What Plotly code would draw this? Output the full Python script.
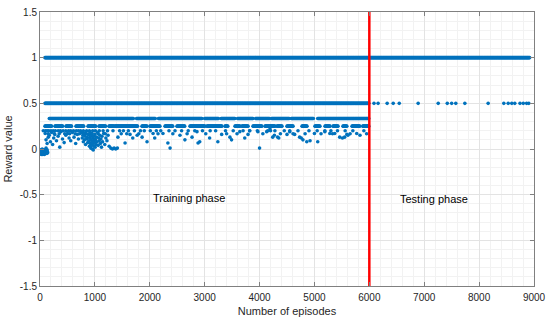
import numpy as np
import plotly.graph_objects as go

# ---------------- data ----------------
# Episode ranges (start, end) where the reward sits on a given level (dense bands)
level_1_segments = [(90, 8920)]
level_05_segments = [(90, 5990)]
level_033_segments = [(170, 1700), (1760, 2100), (2160, 2950), (3000, 3250), (3300, 3550),
                      (3600, 3880), (3930, 4180), (4220, 4540), (4580, 4980), (5060, 5990)]
level_025_segments = [(91, 219), (273, 419), (474, 583), (656, 802), (875, 1020), (1075, 1203),
                      (1257, 1348), (1367, 1786), (1858, 1950), (2004, 2186), (2278, 2423),
                      (2496, 2642), (2733, 3006), (3043, 3316), (3371, 3425), (3553, 3644),
                      (3680, 3790), (3881, 4045), (4100, 4282), (4318, 4409), (4500, 4610),
                      (4774, 4865), (5010, 5100), (5193, 5284), (5339, 5430), (5520, 5594),
                      (5685, 5830), (5880, 5990)]
band_step = 10

# Sparse 0.5 rewards in the testing phase
testing_05_eps = [6085, 6160, 6325, 6435, 6545, 6890, 7255, 7420, 7500, 7575, 7740,
                  8165, 8450, 8530, 8595, 8650, 8745, 8805, 8865, 8905]

# Episodes with reward 0.2
level_02_eps = [60, 100, 130, 160, 200, 240, 280, 330, 370, 420, 470, 520, 560, 610, 660,
                700, 740, 790, 850, 900, 960, 1010, 1080, 1150, 1230, 1330, 1450, 1520,
                1610, 1720, 1830, 1900, 2010, 2120, 2200, 2350, 2460, 2580, 2700, 2820,
                2960, 3100, 3200, 3380, 3520, 3700, 3820, 3960, 4150, 4200, 4280, 4450,
                4550, 4700, 4900, 5050, 5190, 5300, 5420, 5560, 5700, 5900]

# Episodes with reward 1/6
level_0167_eps = [150, 260, 350, 450, 540, 640, 720, 830, 940, 1060, 1190, 1480, 1580, 1800,
                  2150, 2420, 2680, 3020, 3400, 3590, 4060, 4380, 4610, 4830, 5120, 5330,
                  5650, 5950]

# Individual scattered points (episode, reward)
scatter_eps = [5, 10, 15, 20, 25, 30, 35, 40, 45, 50, 55, 60, 65, 70, 75, 80, 85, 90, 95,
               100, 105, 110, 115, 120, 125, 130, 135, 140,
               95, 110, 130, 150, 170, 190, 210, 230, 250, 270, 300, 330, 360, 380, 410,
               440, 470, 500, 530, 560, 590, 620, 650, 680, 700,
               760, 770, 780, 790, 800, 810, 820, 830, 840, 850, 860, 870, 880, 890, 900,
               905, 910, 915, 920, 925, 930, 935, 940, 945, 950, 955, 960, 965, 970, 975,
               980, 985, 990, 995, 1000, 1005, 1010, 1020, 1030, 1040, 1050, 1060, 1070,
               1080, 1090, 1100, 1110, 1120, 1130, 1140, 1160, 1180, 1200, 1220, 1240, 1260,
               1290, 1320, 1350, 1380, 1410,
               1420, 1550, 1640, 1690, 1770, 1860, 1950, 2060, 2090, 2240, 2330, 2370, 2550,
               2640, 2770, 2860, 2880, 2910, 3090, 3240, 3310, 3460, 3490, 3640, 3730, 3790,
               3820, 3970, 4000, 4130, 4190, 4240, 4270, 4330, 4350, 4500, 4550, 4640, 4730,
               4760, 4790, 4860, 4920, 5000, 5060, 5190, 5280, 5370, 5460, 5510, 5550, 5590,
               5610, 5770, 5830]
scatter_vals = [-0.03, -0.05, -0.01, -0.04, -0.06, -0.02, -0.05, 0.00, -0.03, -0.06, -0.01,
                -0.04, -0.05, -0.02, -0.03, -0.06, -0.01, -0.04, -0.02, -0.05, -0.03, 0.01,
                -0.04, -0.02, -0.05, -0.01, -0.03, -0.04,
                0.17, 0.10, 0.06, 0.13, 0.15, 0.08, 0.18, 0.05, 0.12, 0.16, 0.09, 0.14, 0.02,
                0.19, 0.11, 0.07, 0.15, 0.17, 0.12, 0.09, 0.18, 0.13, 0.06, 0.16, 0.11,
                0.18, 0.12, 0.15, 0.08, 0.17, 0.10, 0.14, 0.05, 0.19, 0.11, 0.13, 0.07, 0.16,
                0.09, 0.03, 0.12, 0.18, 0.06, 0.14, 0.01, 0.10, 0.15, 0.04, 0.08, 0.17, 0.00,
                0.12, 0.06, -0.01, 0.09, 0.14, 0.03, 0.11, 0.07, 0.16, 0.02, 0.10, 0.05, 0.13,
                0.08, 0.18, 0.04, 0.12, 0.09, 0.15, 0.06, 0.11, 0.02, 0.14, 0.08, 0.17, 0.05,
                0.12, 0.09, 0.15, 0.03,
                0.01, 0.00, 0.01, 0.00, 0.01,
                0.13, 0.065, 0.16, 0.12, 0.15, 0.13, 0.08, 0.17, 0.12, 0.17, 0.065, 0.01, 0.15,
                0.10, 0.13, 0.19, 0.065, 0.08, 0.12, 0.08, 0.16, 0.13, 0.10, 0.19, 0.12, 0.16,
                0.20, 0.19, 0.01, 0.19, 0.22, 0.13, 0.15, 0.13, 0.12, 0.16, 0.19, 0.16, 0.13,
                0.12, 0.10, 0.08, 0.09, 0.17, 0.08, 0.19, 0.17, 0.17, 0.13, 0.12, 0.13, 0.16,
                0.15, 0.17, 0.15]

phase_boundary = 6000
x_ticks = [0, 1000, 2000, 3000, 4000, 5000, 6000, 7000, 8000, 9000]
y_ticks = [-1.5, -1, -0.5, 0, 0.5, 1, 1.5]
y_tick_text = ["-1.5", "-1", "-0.5", "0", "0.5", "1", "1.5"]


def expand(segments, level):
    xs, ys = [], []
    for a, b in segments:
        e = list(range(a, b + 1, band_step))
        xs += e
        ys += [level] * len(e)
    return xs, ys


xs, ys = [], []
for segs, lvl in [(level_1_segments, 1.0), (level_05_segments, 0.5),
                  (level_033_segments, 1 / 3), (level_025_segments, 0.25)]:
    a, b = expand(segs, lvl)
    xs += a
    ys += b
xs += testing_05_eps
ys += [0.5] * len(testing_05_eps)
xs += level_02_eps
ys += [0.2] * len(level_02_eps)
xs += level_0167_eps
ys += [1 / 6] * len(level_0167_eps)
xs += scatter_eps
ys += scatter_vals

blue = "#0072BD"
fig = go.Figure()
fig.add_trace(go.Scatter(x=xs, y=ys, mode="markers",
                         marker=dict(color=blue, size=3.6, line=dict(width=0)),
                         showlegend=False, hoverinfo="skip"))
fig.add_trace(go.Scatter(x=[phase_boundary, phase_boundary], y=[y_ticks[0], y_ticks[-1]],
                         mode="lines", line=dict(color="#FF0000", width=2.5),
                         showlegend=False, hoverinfo="skip"))

font = "Liberation Sans, Arial, sans-serif"
fig.add_annotation(x=2714, y=-0.536, text="Training phase", showarrow=False,
                   font=dict(family=font, size=11, color="black"))
fig.add_annotation(x=7186, y=-0.547, text="Testing phase", showarrow=False,
                   font=dict(family=font, size=11, color="black"))

axis_common = dict(showline=True, linecolor="#808080", linewidth=1, mirror="ticks",
                   ticks="inside", ticklen=4, tickcolor="#808080", automargin=False,
                   showgrid=True, gridcolor="#E3E3E3", gridwidth=1, zeroline=False,
                   tickfont=dict(family=font, size=10, color="#262626"))
fig.update_xaxes(range=[0, 9000], tickvals=x_ticks, ticklabelstandoff=2,
                 minor=dict(dtick=200, showgrid=True, gridcolor="#F2F2F2", ticks=""),
                 title=dict(text="Number of episodes", standoff=5,
                            font=dict(family=font, size=11, color="#262626")),
                 **axis_common)
fig.update_yaxes(range=[-1.5, 1.5], tickvals=y_ticks, ticktext=y_tick_text,
                 minor=dict(dtick=0.1, showgrid=True, gridcolor="#F2F2F2", ticks=""),
                 title=dict(text="Reward value", standoff=4,
                            font=dict(family=font, size=11, color="#262626")),
                 **axis_common)
fig.update_layout(width=550, height=321, margin=dict(l=40, r=16, t=12, b=35),
                  paper_bgcolor="white", plot_bgcolor="white")
fig.write_html("out.html", config={"displayModeBar": False},
               post_script="document.body.style.margin='0';document.body.style.overflow='hidden';")
